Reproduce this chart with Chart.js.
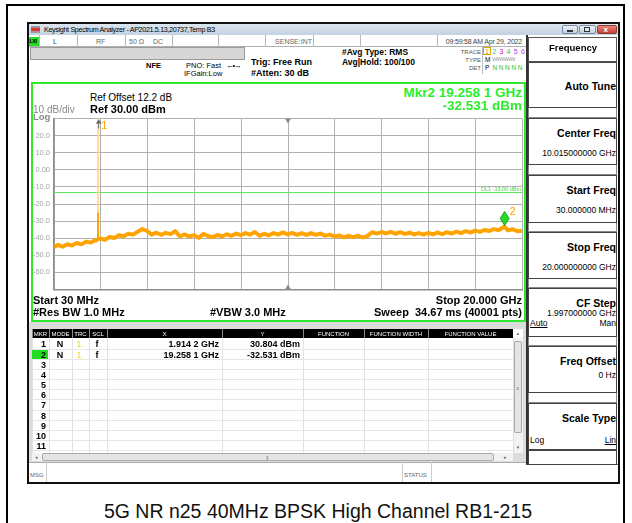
<!DOCTYPE html>
<html><head><meta charset="utf-8">
<script src="https://cdn.jsdelivr.net/npm/chart.js@4.4.1/dist/chart.umd.min.js"></script>
<style>
body{margin:0;width:632px;height:523px;overflow:hidden;background:#fff;position:relative;font-family:"Liberation Sans",Arial,sans-serif;color:#000;}
.a{position:absolute;white-space:pre;}
</style></head><body>
<script>
// ---------------- DATA ----------------
const traceFreqGHz = [
 0.03,0.2,0.4,0.6,0.8,1.0,1.2,1.4,1.6,1.8,
 1.905,1.9135,1.9142,1.9149,1.9156,
 2.0,2.2,2.4,2.6,2.8,3.0,3.2,3.4,3.6,3.8,
 4.0,4.2,4.4,4.6,4.8,5.0,5.2,5.4,5.6,5.8,
 6.0,6.2,6.4,6.6,6.8,7.0,7.2,7.4,7.6,7.8,
 8.0,8.2,8.4,8.6,8.8,9.0,9.2,9.4,9.6,9.8,
 10.0,10.2,10.4,10.6,10.8,11.0,11.2,11.4,11.6,11.8,
 12.0,12.2,12.4,12.6,12.8,13.0,13.2,13.4,13.6,13.8,
 14.0,14.2,14.4,14.6,14.8,15.0,15.2,15.4,15.6,15.8,
 16.0,16.2,16.4,16.6,16.8,17.0,17.2,17.4,17.6,17.8,
 18.0,18.2,18.4,18.6,18.8,19.0,19.258,19.4,19.6,19.8,
 20.0];
const traceLevelDbm = [
 -45.2,-43.9,-45.0,-43.5,-44.3,-42.8,-43.6,-42.0,-42.6,-41.0,
 -41.6,-25.5,30.804,-25.5,-40.6,
 -40.2,-40.9,-39.3,-39.9,-38.3,-38.9,-37.4,-37.9,-36.2,-34.6,
 -35.8,-37.9,-36.8,-38.0,-36.9,-37.6,-35.9,-38.9,-37.8,-39.0,
 -38.2,-39.8,-37.5,-38.7,-39.4,-38.1,-39.0,-37.7,-38.6,-37.3,
 -38.2,-37.0,-37.9,-36.4,-38.6,-37.4,-38.3,-37.0,-37.9,-36.6,
 -37.8,-36.9,-38.0,-37.1,-38.1,-37.0,-38.0,-37.3,-38.5,-37.9,
 -39.0,-38.4,-39.5,-38.6,-39.4,-38.5,-39.6,-38.8,-36.5,-37.3,
 -36.4,-37.2,-36.3,-37.4,-36.5,-37.5,-36.8,-37.8,-37.0,-37.9,
 -36.9,-37.8,-36.7,-37.6,-36.5,-37.3,-36.2,-37.0,-35.9,-36.7,
 -35.6,-36.3,-35.2,-35.8,-34.7,-35.3,-33.2,-35.4,-34.8,-35.9,
 -35.6];
const xGridFreqs = [0.03,2.027,4.024,6.021,8.018,10.015,12.012,14.009,16.006,18.003,20.0];
const yTickValues = [30,20,10,0,-10,-20,-30,-40,-50,-60,-70];
const yTickLabels = ['','20.0','10.0','0.00','-10.0','-20.0','-30.0','-40.0','-50.0','-60.0',''];
const markerFreqGHz = [1.9142, 19.2581];
const markerLevelDbm = [30.804, -32.531];
const markerNames = ['1','2'];
const displayLineDbm = -13;
const displayLineLabel = 'DL1 -13.00 dBm';
const centerFreqGHz = 10.015;
const tableCols = ['MKR','MODE','TRC','SCL','X','Y','FUNCTION','FUNCTION WIDTH','FUNCTION VALUE'];
const tableMode = ['N','N'];
const tableTrc = ['1','1'];
const tableScl = ['f','f'];
const tableX = ['1.914 2 GHz','19.258 1 GHz'];
const tableY = ['30.804 dBm','-32.531 dBm'];
const softTitles = ['Auto Tune','Center Freq','Start Freq','Stop Freq','CF Step','Freq Offset','Scale Type'];
const softValues = ['','10.015000000 GHz','30.000000 MHz','20.000000000 GHz','1.997000000 GHz','0 Hz',''];

// ---------------- helpers ----------------
function R(x,y,w,h,css){const d=document.createElement('div');d.className='a';d.style.cssText=`position:absolute;left:${x}px;top:${y}px;width:${w}px;height:${h}px;box-sizing:border-box;`+(css||'');document.body.appendChild(d);return d;}
function T(x,base,s,o){o=o||{};const fs=o.fs||8;const d=document.createElement('div');d.className='a';d.textContent=s;
 d.style.fontSize=fs+'px';d.style.lineHeight=fs+'px';d.style.top=(base-0.846*fs)+'px';
 if(o.right){d.style.right=(632-x)+'px';}else if(o.center){d.style.left=(x-300)+'px';d.style.width='600px';d.style.textAlign='center';}else d.style.left=x+'px';
 if(o.b)d.style.fontWeight='bold';if(o.c)d.style.color=o.c;if(o.ls!==undefined)d.style.letterSpacing=o.ls+'px';if(o.u)d.style.textDecoration='underline';
 if(o.css)d.style.cssText+=o.css;document.body.appendChild(d);return d;}

// outer frame
R(6,4,619,540,'border:2px solid #000;');
// window
R(27,22,593,462,'border:2px solid #111;background:#fff;');
// title bar
R(29,24,589,11,'background:linear-gradient(#dde6f0,#c3d1e1);');
R(31,26,9,7,'background:linear-gradient(#999 0,#999 35%,#d33 35%,#d33 65%,#999 65%);');
T(44,32.5,'Keysight Spectrum Analyzer - AP2021.5.13,20737,Temp B3',{fs:7.2,ls:-0.35});
R(562,25,16,9,'border:1px solid #7a8ca4;border-radius:2px;background:linear-gradient(#eef3f9,#c2cedd);');
R(567,30,6,2,'background:#333;');
R(579,25,17,9,'border:1px solid #7a8ca4;border-radius:2px;background:linear-gradient(#eef3f9,#c2cedd);');
R(584,27,6,5,'border:1px solid #333;');
R(597,25,20,9,'border:1px solid #8a3a30;border-radius:2px;background:linear-gradient(#e88a7a,#c4402e);');
T(603.5,32.5,'x',{fs:8,b:true,c:'#fff'});
// status row
R(29,35,498,12,'border-bottom:1px solid #b0b0b0;background:#fff;');
R(29,37,10,9,'background:#22dd22;');
T(29.5,44,'LXI',{fs:5.5,b:true,ls:-0.5});
[39,77,125,172,218,265,313,360,437].forEach(x=>R(x,35,1,12,'background:#b8b8b8;'));
T(53,43.5,'L',{fs:7,c:'#444'});
T(96,43.5,'RF',{fs:7,c:'#666'});
T(129,43.5,'50 Ω',{fs:7,c:'#666'});
T(153,43.5,'DC',{fs:7,c:'#666'});
T(312,43.5,'SENSE:INT',{fs:7,c:'#666',right:true});
T(522,43.5,'09:59:58 AM Apr 29, 2022',{fs:7,c:'#444',right:true,ls:-0.2});
// info area
R(30,47,215,13,'background:#d6d6d6;border:1px solid #9a9a9a;');
T(146,68,'NFE',{fs:7.5,b:true});
T(186,68,'PNO: Fast',{fs:7.5});
T(226,68,'←•→',{fs:7.5,ls:-1});
T(184,76.5,'IFGain:Low',{fs:7.5});
T(251,66,'Trig: Free Run',{fs:9,b:true});
T(251,76.5,'#Atten: 30 dB',{fs:9,b:true});
T(342,55,'#Avg Type: RMS',{fs:8.5,b:true});
T(342,65,'Avg|Hold: 100/100',{fs:8.5,b:true});
T(481,54,'TRACE',{fs:6,c:'#555',right:true});
T(481,62,'TYPE',{fs:6,c:'#555',right:true});
T(481,70,'DET',{fs:6,c:'#555',right:true});
R(482,47,1,27,'background:#bbb;');
R(483,47,8,8,'border:1px solid #e0a000;');
const trColors=['#f09a00','#00c8c8','#e000e0','#30c060','#a040f0','#c040c0'];
['1','2','3','4','5','6'].forEach((s,i)=>T(485+i*7.2,54,s,{fs:7,c:trColors[i]}));
T(485,62,'M',{fs:6.5});
T(492,62,'WWWWW',{fs:5.5,c:'#999',ls:-0.6});
T(485,70,'P',{fs:6.5});
['N','N','N','N','N'].forEach((s,i)=>T(492.5+i*6.3,70,s,{fs:6.5,c:'#30c030'}));

// green graph panel
R(31,82,495,240,'border:2px solid #2ee82e;');

// ---------------- chart ----------------
const cv=document.createElement('canvas');cv.width=490;cv.height=188;
cv.style.cssText='position:absolute;left:33px;top:110px;width:490px;height:188px;';
document.body.appendChild(cv);

const traceColor='#ffa300', spikeLight='#ffd596';
const annot={id:'annot',
 beforeDatasetsDraw(chart){
  const {ctx,chartArea:a,scales:{x,y}}=chart;
  const yd=Math.round(y.getPixelForValue(displayLineDbm))+0.5;
  ctx.save();ctx.strokeStyle='#5fe85f';ctx.lineWidth=1;ctx.beginPath();ctx.moveTo(a.left,yd);ctx.lineTo(a.right,yd);ctx.stroke();
  ctx.fillStyle='#44d844';ctx.font='5.5px "Liberation Sans"';ctx.textAlign='right';ctx.fillText(displayLineLabel,a.right-1,yd-2);
  ctx.restore();
 },
 afterDatasetsDraw(chart){
  const {ctx,chartArea:a,scales:{x,y}}=chart;
  ctx.save();
  // center frequency triangles
  const xc=x.getPixelForValue(centerFreqGHz);
  ctx.fillStyle='#8a8a8a';
  ctx.beginPath();ctx.moveTo(xc-3,a.top);ctx.lineTo(xc+3,a.top);ctx.lineTo(xc,a.top+5);ctx.fill();
  ctx.beginPath();ctx.moveTo(xc-3,a.bottom);ctx.lineTo(xc+3,a.bottom);ctx.lineTo(xc,a.bottom-5);ctx.fill();
  // markers
  markerFreqGHz.forEach((f,i)=>{
   const px=x.getPixelForValue(f), v=markerLevelDbm[i];
   ctx.font='11px "Liberation Sans"';ctx.fillStyle=traceColor;ctx.textAlign='left';
   if(v>y.max){
     ctx.strokeStyle='#6a6a6a';ctx.lineWidth=1;ctx.beginPath();ctx.moveTo(px+0.5,a.top+2);ctx.lineTo(px+0.5,a.top+10);ctx.stroke();
     ctx.fillStyle='#6a6a6a';ctx.beginPath();ctx.moveTo(px+0.5,a.top+1);ctx.lineTo(px-2.5,a.top+5);ctx.lineTo(px+3.5,a.top+5);ctx.fill();
     ctx.fillStyle=traceColor;ctx.fillText(markerNames[i],px+3,a.top+10);
   } else {
     const py=y.getPixelForValue(v);
     ctx.fillStyle='#22dd22';ctx.strokeStyle='#118811';ctx.lineWidth=0.8;
     ctx.beginPath();ctx.moveTo(px,py);ctx.lineTo(px-4.5,py-7);ctx.lineTo(px,py-14);ctx.lineTo(px+4.5,py-7);ctx.closePath();ctx.fill();ctx.stroke();
     ctx.fillStyle=traceColor;ctx.fillText(markerNames[i],px+5,py-10);
   }
  });
  ctx.restore();
 }};

new Chart(cv,{type:'line',
 data:{datasets:[{data:traceFreqGHz.map((f,i)=>({x:f,y:traceLevelDbm[i]})),
  borderColor:traceColor,borderWidth:4,pointRadius:0,tension:0,clip:0,borderJoinStyle:'round',
  segment:{
   borderColor:c=>Math.max(c.p0.parsed.y,c.p1.parsed.y)>-20?spikeLight:traceColor,
   borderWidth:c=>Math.abs(c.p0.parsed.y-c.p1.parsed.y)>8?1.8:4
  }}]},
 options:{responsive:false,animation:false,devicePixelRatio:1,
  layout:{padding:{top:6,right:1,bottom:6,left:0}},
  plugins:{legend:{display:false},tooltip:{enabled:false}},
  scales:{
   x:{type:'linear',min:0.03,max:20,
      afterBuildTicks:s=>{s.ticks=xGridFreqs.map(v=>({value:v}));},
      ticks:{display:false},grid:{color:'#b0b0b0',drawTicks:false},border:{color:'#8c8c8c',width:1.5},
      afterFit:s=>{s.height=0;}},
   y:{min:-70,max:30,
      afterBuildTicks:s=>{s.ticks=yTickValues.map(v=>({value:v}));},
      ticks:{autoSkip:false,padding:4,color:'#a4a4a4',font:{size:7.5,family:'Liberation Sans'},
        callback:v=>yTickLabels[yTickValues.indexOf(v)]},
      grid:{color:'#b0b0b0',drawTicks:false},border:{color:'#8c8c8c',width:1.5},
      afterFit:s=>{s.width=21;}}
  }},
 plugins:[annot]});

// graph texts
T(90,101,'Ref Offset 12.2 dB',{fs:10});
T(90,113,'Ref 30.00 dBm',{fs:11,b:true});
T(33,113,'10 dB/div',{fs:10,c:'#8a8a8a'});
T(33,120.5,'Log',{fs:9.5,b:true,c:'#8a8a8a'});
T(522,97,'Mkr2 19.258 1 GHz',{fs:13.5,b:true,c:'#2bee2b',right:true});
T(522,110,'-32.531 dBm',{fs:13.5,b:true,c:'#2bee2b',right:true});
T(33,304,'Start 30 MHz',{fs:11,b:true});
T(33,316.5,'#Res BW 1.0 MHz',{fs:11,b:true});
T(210,316.5,'#VBW 3.0 MHz',{fs:11,b:true});
T(522,304,'Stop 20.000 GHz',{fs:11,b:true,right:true});
T(522,316.5,'Sweep  34.67 ms (40001 pts)',{fs:11,b:true,right:true});

// ---------------- marker table ----------------
R(29,322,498,141,'background:#dcdcdc;');
R(32,338,481,115,'background:#fff;');
const colEdges=[32,49,72,89,107,222,303,364,428,513];
R(32,329,481,9,'background:#000;');
tableCols.forEach((s,i)=>{const c=(colEdges[i]+colEdges[i+1])/2;T(c,336,s,{fs:6,c:'#fff',center:true});});
colEdges.forEach(x=>{R(x,329,1,9,'background:#888;');R(x,338,1,115,'background:#e2e2e2;');});
R(513,329,10,9,'background:#fff;');T(518,336,'▲',{fs:4.5,c:'#666',center:true});
for(let r=0;r<11;r++){
 const top=339+r*10.17, base=348+r*10.17;
 R(32,Math.round(top+9.6),481,1,'background:#e6e6e6;');
 if(r===1)R(32,Math.round(top)+1,16,9,'background:#22dd22;');
 T(46,base,String(r+1),{fs:9,b:true,right:true});
 if(r<tableX.length){
  T(60,base,tableMode[r],{fs:9,b:true,center:true});
  T(79,base,tableTrc[r],{fs:9,c:'#f2e200',center:true});
  T(97,base,tableScl[r],{fs:9,b:true,center:true});
  T(219,base,tableX[r],{fs:9,b:true,right:true});
  T(300,base,tableY[r],{fs:9,b:true,right:true});
 }
}
// scrollbars
R(513,338,10,115,'background:#f2f2f2;border-left:1px solid #ddd;');
R(514,341,8,92,'background:#e4e4e4;border:1px solid #aaa;border-radius:2px;');
T(518,390,'≡',{fs:5,c:'#777',center:true});
T(518,450,'▼',{fs:4.5,c:'#666',center:true});
R(32,453,481,8,'background:#f2f2f2;');
R(42,453,452,8,'background:#e4e4e4;border:1px solid #aaa;border-radius:2px;');
T(36,459.5,'◂',{fs:5,c:'#666',center:true});
T(505,459.5,'▸',{fs:5,c:'#666',center:true});
T(267,459,'|||',{fs:4,c:'#777',center:true,ls:-0.5});

// MSG row
R(29,462,589,20,'border-top:1px solid #aaa;background:#fff;');
R(46,462,1,20,'background:#ccc;');
R(402,462,1,20,'background:#ccc;');
R(431,462,1,20,'background:#ccc;');
T(30,477,'MSG',{fs:6,c:'#666'});
T(404,477,'STATUS',{fs:6,c:'#666'});

// ---------------- softkey panel ----------------
R(526,35,92,430,'border-left:2px solid #333;border-bottom:1px solid #555;background:#fff;');
R(528,37,89,25,'border:1px solid #555;');
T(573,51,'Frequency',{fs:9.5,b:true,center:true});
const boxes=[[62,108],[118,165],[175,223],[232,279],[288,337],[346,393],[403,450]];
boxes.forEach((b,i)=>{
 R(528,b[0],89,b[1]-b[0],'border:1px solid #444;');
 if(i<boxes.length-1)R(528,b[1],89,boxes[i+1][0]-b[1],'border:1px solid #888;border-top:none;');
 if(i===0){T(616,90,softTitles[i],{fs:10.5,b:true,right:true});return;}
 T(616,b[0]+19,softTitles[i],{fs:10.5,b:true,right:true});
 if(softValues[i])T(616,b[0]+(i===4?28:(i===5?32:38)),softValues[i],{fs:8.5,right:true});
});
T(530,326,'Auto',{fs:8.5,u:true});
T(616,326,'Man',{fs:8.5,right:true});
T(530,443,'Log',{fs:8.5});
T(616,443,'Lin',{fs:8.5,u:true,right:true});
R(528,450,89,15,'border:1px solid #444;');

// caption
T(318,518,'5G NR n25 40MHz BPSK High Channel RB1-215',{fs:19.5,center:true,c:'#111'});
</script>
</body></html>
